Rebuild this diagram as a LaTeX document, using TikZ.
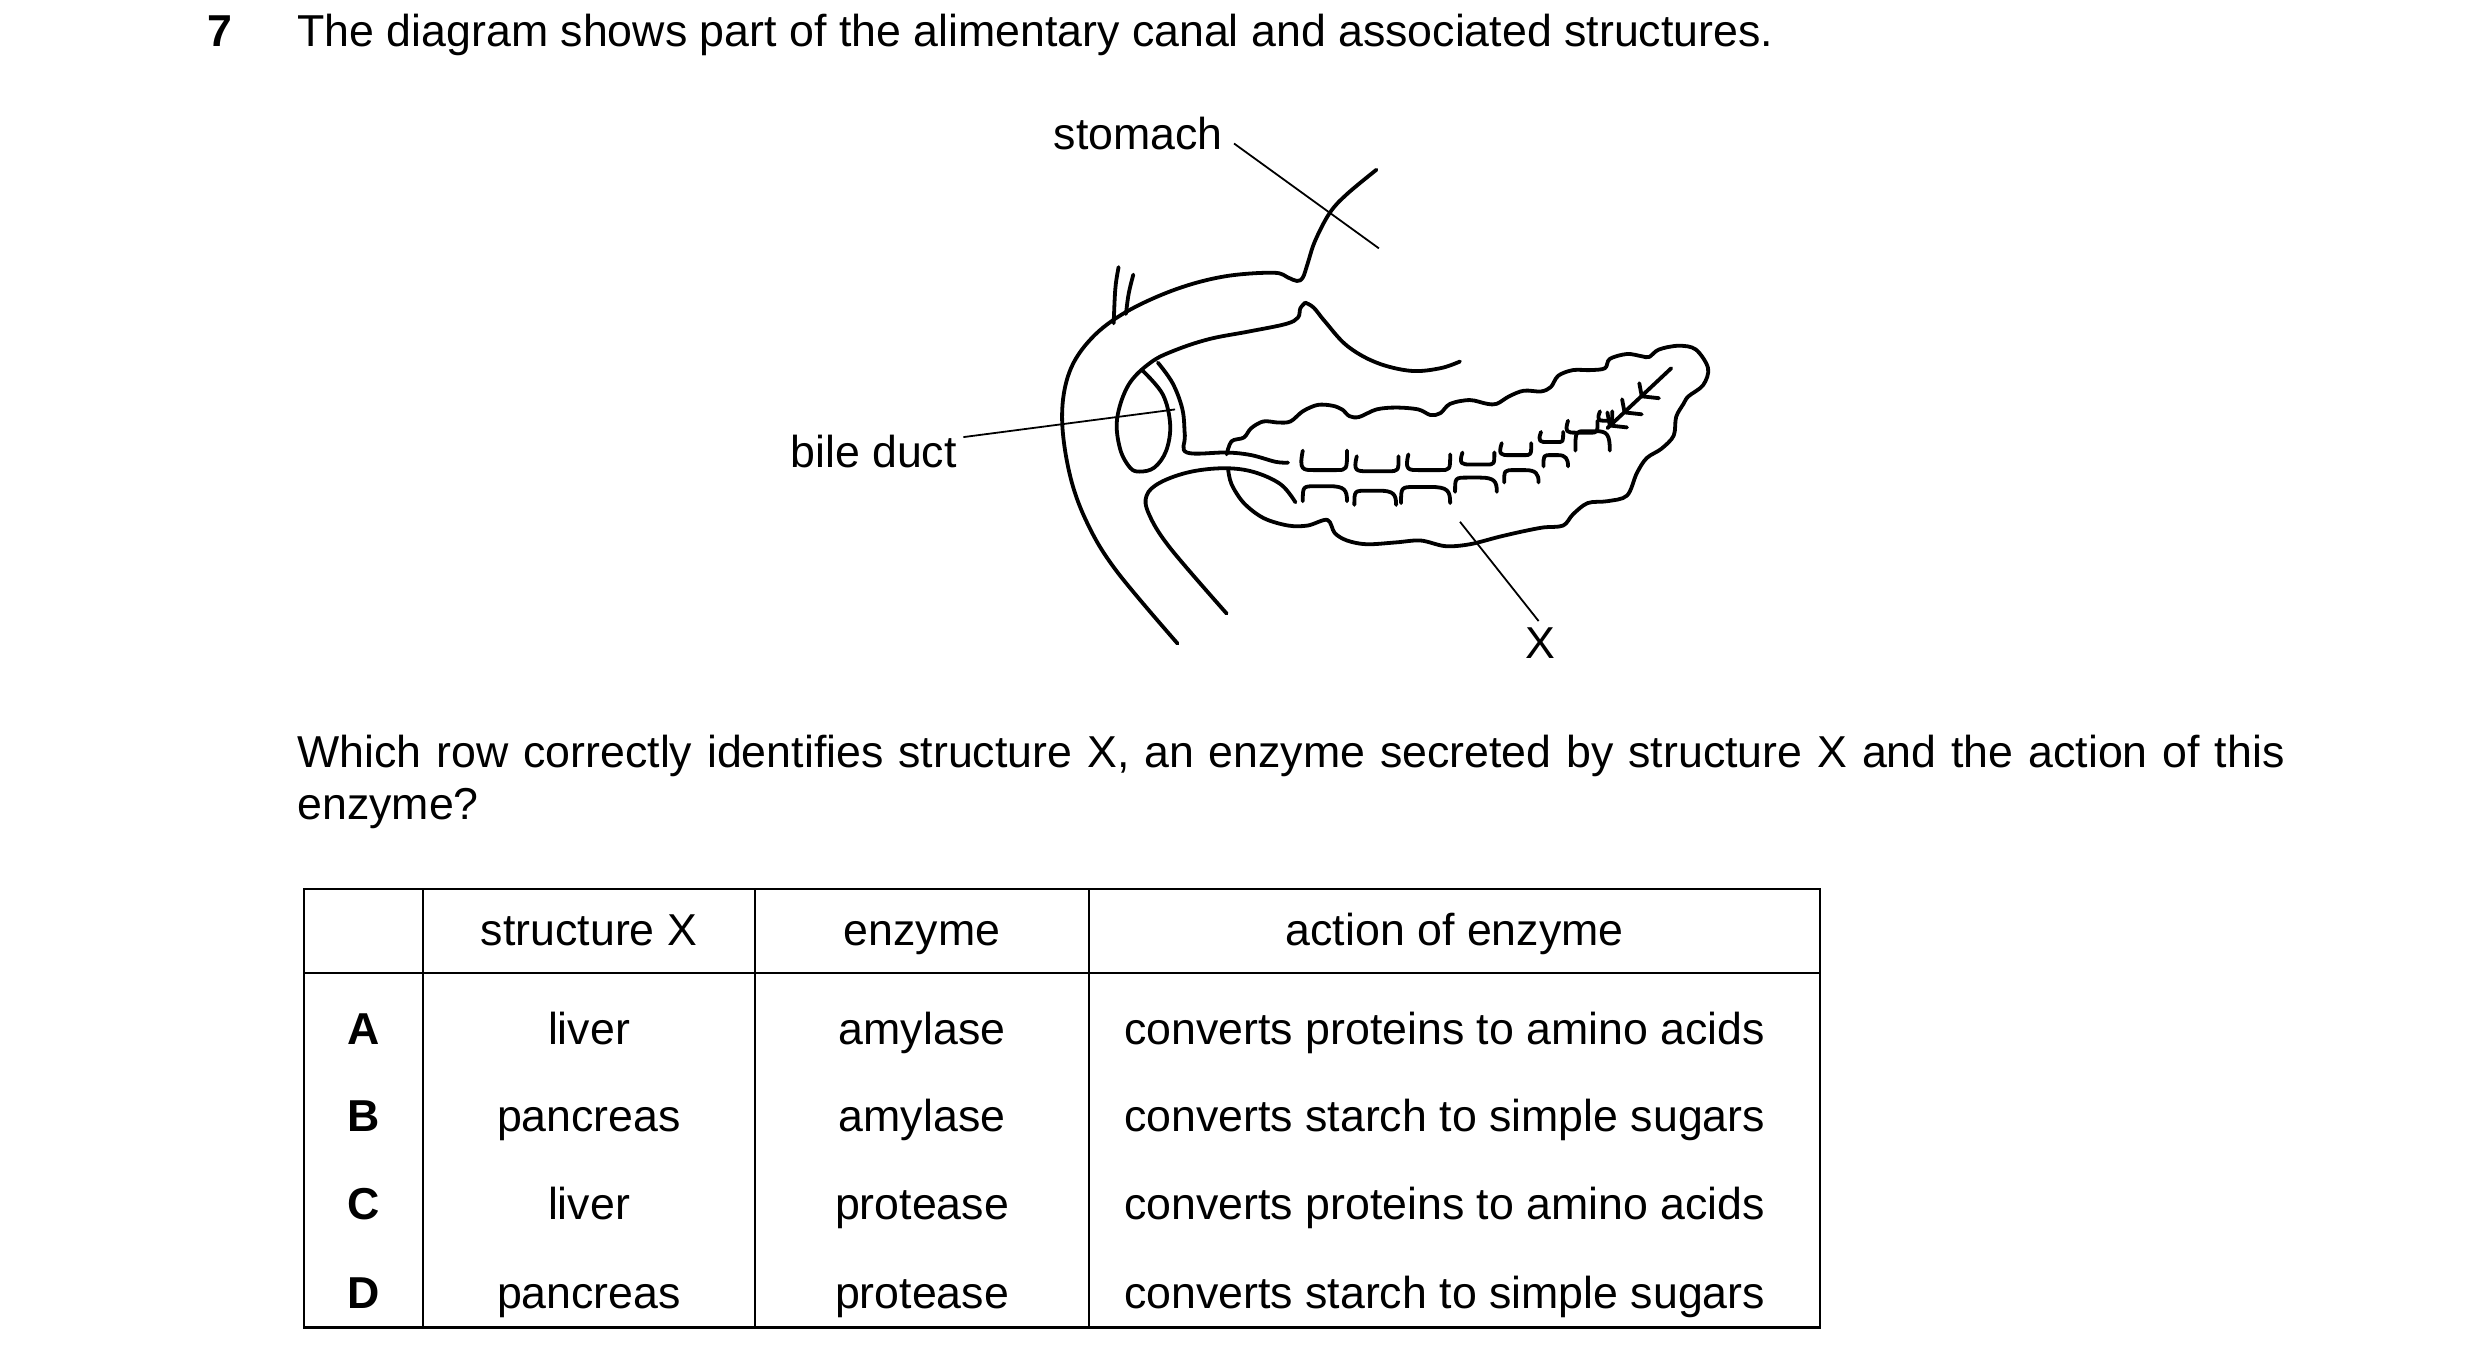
\documentclass[tikz,border=0pt]{standalone}
\usepackage{fontspec}
\setmainfont{Liberation Sans}
\begin{document}
\begin{tikzpicture}[x=0.05cm,y=-0.05cm,
  txt/.style={font=\fontsize{40}{47}\selectfont,inner sep=0pt},
  organ/.style={line width=3.4pt,line cap=round,line join=round},
  lead/.style={line width=1.6pt},
  tab/.style={line width=2pt}]
\useasboundingbox (0,0) rectangle (1560,856);
% heading
\node[txt,font=\fontsize{40}{47}\selectfont\bfseries,anchor=base] (num) at (138.5,29) {7};
\node[txt,anchor=base west] (head) at (187,29) {The diagram shows part of the alimentary canal and associated structures.};
% diagram
\begin{scope}[shift={(631,62)},xscale=0.309,yscale=0.2356]
\draw[organ] plot[smooth,tension=0.6] coordinates {(760,190) (700,255) (665,305) (635,380) (620,440) (610,478) (598,487) (580,478) (550,465) (450,475) (350,510) (250,570) (180,640) (135,730) (120,850) (135,1000) (170,1130) (230,1260) (355,1455)};
\draw[organ] (235,450) .. controls (228,500) .. (225,600);
\draw[organ] (265,470) .. controls (255,520) .. (250,575);
\draw[organ] plot[smooth,tension=0.6] coordinates {(615,545) (605,560) (600,585) (575,602) (500,622) (420,642) (350,672) (300,705) (255,765) (232,855) (238,935) (258,985) (278,996) (308,985) (332,940) (340,870) (325,790) (285,728)};
\draw[organ] plot[smooth,tension=0.6] coordinates {(315,705) (345,760) (365,830) (370,900) (374,945) (455,945) (505,952) (555,970) (580,972)};
\draw[organ] plot[smooth,tension=0.6] coordinates {(615,545) (632,558) (655,595) (700,660) (760,705) (830,727) (890,720) (930,702)};
\draw[organ] plot[smooth,tension=0.6] coordinates {(595,1078) (565,1030) (510,997) (450,987) (380,997) (320,1025) (292,1060) (297,1110) (340,1200) (455,1375)};
\draw[organ] plot[smooth,tension=0.55] coordinates {(455,950) (465,915) (490,905) (505,880) (530,862) (560,865) (585,862) (610,835) (640,818) (670,820) (690,830) (705,848) (725,850) (760,830) (800,825) (845,830) (870,845) (890,840) (910,815) (950,805) (985,815) (1005,815) (1030,795) (1060,780) (1095,782) (1115,770) (1130,740) (1160,725) (1195,725) (1225,720) (1235,695) (1270,682) (1300,688) (1315,690) (1335,670) (1375,660) (1410,670) (1435,720) (1425,765) (1395,795) (1385,815) (1370,850) (1365,900) (1340,935) (1310,960) (1290,1000) (1270,1060) (1230,1075) (1190,1080) (1160,1110) (1140,1140) (1100,1145) (1060,1155) (1010,1170) (950,1190) (900,1195) (850,1180) (800,1185) (740,1190) (700,1180) (675,1160) (660,1125) (620,1140) (580,1140) (530,1120) (490,1080) (465,1030) (458,990)};
% cups (top row)
\foreach \l/\r/\t/\b in {610/700/940/992, 720/805/955/995, 825/910/950/992, 935/1000/945/977, 1015/1075/920/952, 1095/1140/890/917, 1150/1210/860/892, 1215/1240/835/860}
  \draw[organ] (\l,\t) .. controls (\l-8,\b) and (\l,\b) .. ({\l+0.25*(\r-\l)},\b) -- ({\l+0.75*(\r-\l)},\b) .. controls (\r,\b) and (\r,\b) .. (\r,\t);
% arches (bottom row)
\foreach \l/\r/\b/\t in {610/700/1075/1035, 715/800/1085/1047, 810/910/1080/1037, 920/1005/1050/1012, 1020/1090/1025/992, 1100/1150/982/952, 1165/1235/940/888}
  \draw[organ] (\l,\b) .. controls (\l,\t) and (\l,\t) .. ({\l+0.3*(\r-\l)},\t) -- ({\l+0.6*(\r-\l)},\t) .. controls (\r-5,\t) and (\r,\t+10) .. (\r,\b);
% duct with chevrons
\draw[organ] (1360,720) -- (1230,880);
\foreach \px/\py in {1300/795, 1265/838, 1235/873}
  \draw[organ] (\px-5,\py-35) -- (\px,\py) -- (\px+35,\py+5);
% leader anchors
\coordinate (st1) at (470,120);
\coordinate (st2) at (765,400);
\coordinate (bd) at (350,830);
\coordinate (x1) at (930,1130);
\coordinate (x2) at (1090,1395);
\end{scope}
\node[txt,anchor=base] (stom) at (716,94) {stomach};
\draw[lead] (st1) -- (st2);
\node[txt,anchor=base east] (bile) at (602,294) {bile duct};
\draw[lead] (bile.east) ++(4,-9) coordinate (bs) -- (bd);
\draw[lead] (x1) -- (x2);
\node[txt,anchor=base] (xl) at (969,414) {X};
% question
\node[txt,anchor=north west,text width=62.5cm,align=justify] (q) at (187,462) {Which row correctly identifies structure X, an enzyme secreted by structure X and the action of this enzyme?};
% table
\draw[tab] (191,559) rectangle (1145,835);
\draw[tab] (191,612) -- (1145,612);
\foreach \cx in {266,475,685} \draw[tab] (\cx,559) -- (\cx,835);
\node[txt,anchor=base] (h1) at (370.5,595) {structure X};
\node[txt,anchor=base] (h2) at (580,595) {enzyme};
\node[txt,anchor=base] (h3) at (915,595) {action of enzyme};
\foreach \y/\L/\s/\e/\a in {657/A/liver/amylase/converts proteins to amino acids, 712/B/pancreas/amylase/converts starch to simple sugars, 767/C/liver/protease/converts proteins to amino acids, 823/D/pancreas/protease/converts starch to simple sugars}{
  \node[txt,anchor=base,font=\fontsize{40}{47}\selectfont\bfseries] at (228.5,\y) {\L};
  \node[txt,anchor=base] at (370.5,\y) {\s};
  \node[txt,anchor=base] at (580,\y) {\e};
  \node[txt,anchor=base west] at (707,\y) {\a};
}
\end{tikzpicture}
\end{document}
